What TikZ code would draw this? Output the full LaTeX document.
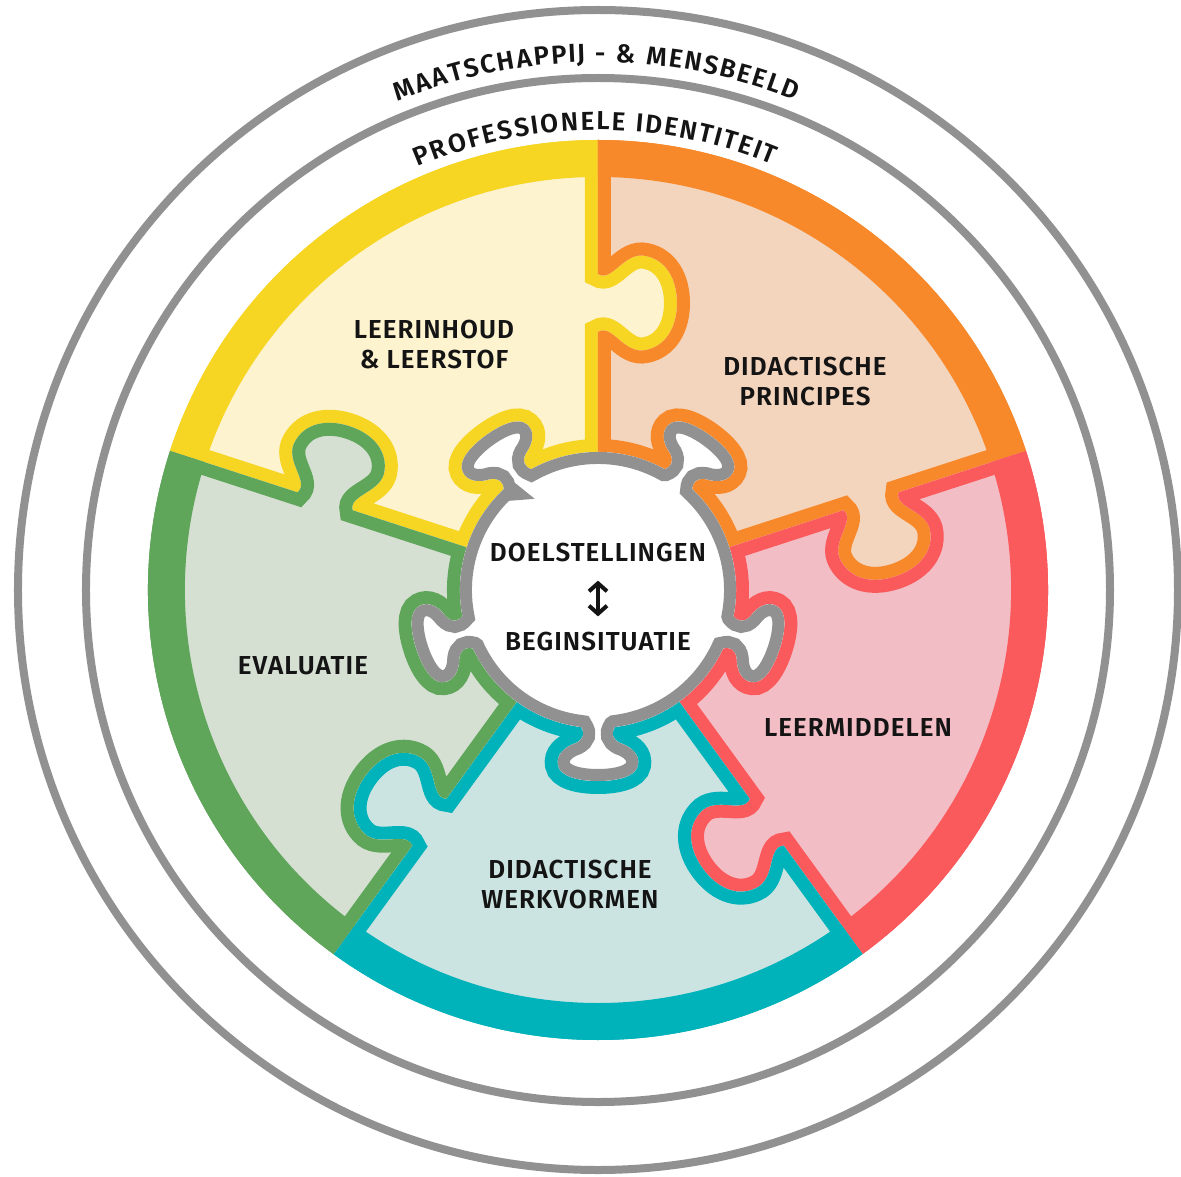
\documentclass[tikz,border=0pt]{standalone}
\usepackage{fontspec}
\newfontfamily\lblfont{Fira Sans SemiBold}[LetterSpace=4]
\usepackage{tikz}
\usetikzlibrary{positioning}
\usetikzlibrary{arrows.meta}
\usetikzlibrary{decorations.text}

\definecolor{ringgray}{HTML}{919191}
\definecolor{inkblack}{HTML}{141414}
\definecolor{yelEdge}{HTML}{F6D523}
\definecolor{yelTint}{HTML}{FEF3CF}
\definecolor{oraEdge}{HTML}{F7892B}
\definecolor{oraTint}{HTML}{F3D4BD}
\definecolor{redEdge}{HTML}{FA5A5C}
\definecolor{redTint}{HTML}{F3BDC6}
\definecolor{teaEdge}{HTML}{00B3BA}
\definecolor{teaTint}{HTML}{CCE4E1}
\definecolor{greEdge}{HTML}{5FA55A}
\definecolor{greTint}{HTML}{D5E0D3}

\tikzset{ring/.style={draw=ringgray,line width=8pt}}
\tikzset{piecetext/.style={font=\lblfont\fontsize{26pt}{30pt}\selectfont,text=inkblack,align=center,inner sep=0pt}}
\tikzset{updown/.style={{Straight Barb[length=8pt,width=18pt]}-{Straight Barb[length=8pt,width=18pt]},line width=4pt,draw=inkblack}}
\tikzset{arctext/.style={decorate,decoration={text effects along path,text={#1},text effects/.cd,text along path,fit text to path,characters={font=\lblfont\fontsize{26pt}{30pt}\selectfont,text=inkblack,inner sep=0pt}}}}

% puzzle knob on an edge, tab of the hub
\newcommand\knobpath{-- (-29,0) .. controls (-20,-14) and (-52,-26) .. (-47,-48) .. controls (-43,-68) and (-24,-79) .. (0,-79) .. controls (24,-79) and (43,-68) .. (47,-48) .. controls (52,-26) and (20,-14) .. (29,0)}
\newcommand\tabpath{-- (-17,0) .. controls (-13,-6) and (-14,-12) .. (-22,-16) .. controls (-34,-20) and (-42,-28) .. (-40,-38) .. controls (-38,-50) and (-18,-54) .. (0,-54) .. controls (18,-54) and (38,-50) .. (40,-38) .. controls (42,-28) and (34,-20) .. (22,-16) .. controls (14,-12) and (13,-6) .. (17,0)}
\newcommand\piecepath{(54:450) arc[start angle=54,end angle=126,radius=450] {[rotate=126,shift={(287,0)},xscale=-1] \knobpath} -- (126:138) arc[start angle=126,end angle=97.07,radius=138] {[shift={(0,137)},yscale=-1] \tabpath} arc[start angle=82.93,end angle=54,radius=138] {[rotate=54,shift={(287,0)}] \knobpath} -- cycle}
\newcommand\hubpath{(133.07:138) \foreach \a [evaluate=\a as \r using \a-90, evaluate=\a as \s using \a-7.07, evaluate=\a as \e using \a-64.93] in {126,54,-18,-90,-162} {{[rotate=\r,shift={(0,137)},yscale=-1] \tabpath} arc[start angle=\s,end angle=\e,radius=138]} -- cycle}

\begin{document}
\begin{tikzpicture}[x=1pt,y=1pt]
    \useasboundingbox (-598,-586) rectangle (583,590);
    \fill[white] (-598,-586) rectangle (583,590);
    % the five pieces
    \foreach \rot/\edge/\tint in {36/yelEdge/yelTint,-36/oraEdge/oraTint,-108/redEdge/redTint,180/teaEdge/teaTint,108/greEdge/greTint} {
        \begin{scope}[rotate=\rot]
            \clip \piecepath;
            \fill[\tint] (-460,-460) rectangle (460,460);
            \draw[\edge,line width=26pt] \piecepath;
            \draw[\edge,line width=74pt] (0,0) circle (450);
        \end{scope}
    }
    % hub
    \begin{scope}
        \clip \hubpath;
        \fill[white] (-200,-200) rectangle (200,200);
        \draw[ringgray,line width=24pt] \hubpath;
    \end{scope}
    \draw[ring] (0,0) circle (580);
    \draw[ring] (0,0) circle (512);
    \path[arctext={MAATSCHAPPIJ - {\&} MENSBEELD}] (112.3:528) arc[start angle=112.3,end angle=68.1,radius=528];
    \path[arctext={PROFESSIONELE IDENTITEIT}] (113.1:460) arc[start angle=113.1,end angle=67.7,radius=460];
    \node[piecetext] (inhoud) at (-164,245) {LEERINHOUD\\\& LEERSTOF};
    \node[piecetext] (principes) at (207,208) {DIDACTISCHE\\PRINCIPES};
    \node[piecetext] (middelen) at (260,-137) {LEERMIDDELEN};
    \node[piecetext] (werkvormen) at (-28,-294) {DIDACTISCHE\\WERKVORMEN};
    \node[piecetext] (evaluatie) at (-295,-76) {EVALUATIE};
    \node[piecetext] (doel) at (0,37) {DOELSTELLINGEN};
    \node[piecetext] (begin) at (0,-51) {BEGINSITUATIE};
        \draw[updown,shorten <=18pt,shorten >=15pt] (doel) -- (begin);
\end{tikzpicture}
\end{document}
